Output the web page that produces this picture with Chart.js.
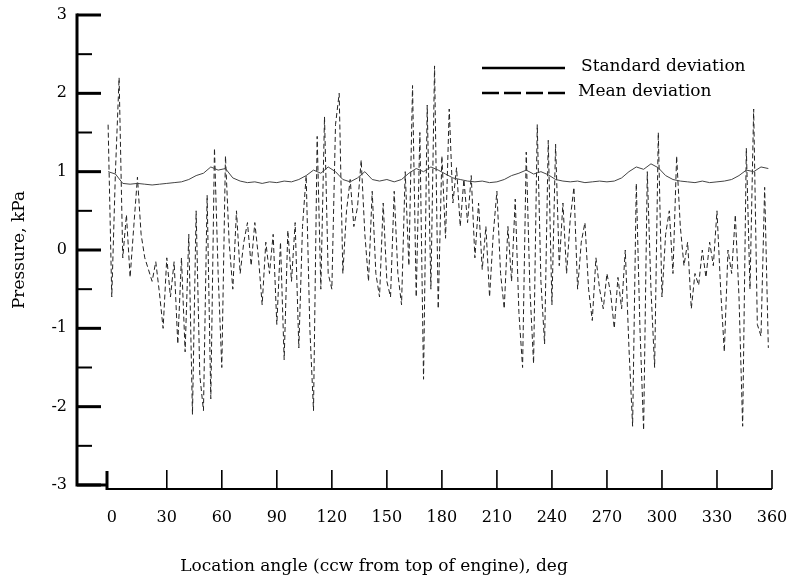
<!DOCTYPE html>
<html>
<head>
<meta charset="utf-8">
<script src="https://cdn.jsdelivr.net/npm/chart.js@4.4.0/dist/chart.umd.min.js"></script>
<style>
  body { margin: 0; background: #fff; }
  canvas { display: block; }
</style>
</head>
<body>
<canvas id="chart" width="791" height="576"></canvas>
<script>
// angle grid: first point and spacing (deg)
var angleStart = -2;
var meanStep = 2;
var stdStep = 4;

// mean deviation, kPa, every 2 deg from -2 to 358
var meanDev = [
  1.6, -0.6, 1.0, 2.2, -0.1, 0.45, -0.35, 0.3, 0.93, 0.2,
  -0.1, -0.25, -0.4, -0.15, -0.55, -1.0, -0.1, -0.6, -0.15, -1.2,
  -0.1, -1.3, 0.2, -2.1, 0.5, -1.6, -2.05, 0.7, -1.9, 1.3,
  -0.3, -1.5, 1.2, 0.1, -0.5, 0.5, -0.3, 0.1, 0.35, -0.2,
  0.35, -0.1, -0.7, 0.1, -0.3, 0.2, -0.95, 0.1, -1.4, 0.25,
  -0.4, 0.35, -1.25, 0.3, 0.95, -1.0, -2.05, 1.45, -0.5, 1.7,
  -0.3, -0.5, 1.6, 2.0, -0.3, 0.5, 0.9, 0.3, 0.55, 1.15,
  0.2, -0.4, 0.75, -0.3, -0.6, 0.6, -0.4, -0.6, 0.75, -0.3,
  -0.7, 1.0, -0.2, 2.1, -0.6, 1.5, -1.65, 1.85, -0.5, 2.35,
  -0.75, 1.2, 0.15, 1.8, 0.6, 1.05, 0.3, 0.9, 0.35, 0.95,
  -0.1, 0.6, -0.25, 0.3, -0.6, 0.2, 0.75, -0.3, -0.75, 0.3,
  -0.4, 0.65, -0.8, -1.5, 1.25, -0.5, -1.45, 1.6, -0.4, -1.2,
  1.4, -0.7, 1.35, -0.2, 0.6, -0.3, 0.4, 0.8, -0.5, 0.1,
  0.35, -0.5, -0.9, -0.1, -0.5, -0.75, -0.3, -0.55, -1.0, -0.35,
  -0.75, 0.0, -1.25, -2.25, 0.85, -1.0, -2.3, 1.0, -0.5, -1.5,
  1.5, -0.6, 0.2, 0.5, -0.3, 1.2, 0.3, -0.2, 0.1, -0.75,
  -0.3, -0.45, 0.0, -0.35, 0.1, -0.2, 0.5, -0.5, -1.3, 0.0,
  -0.3, 0.45, -0.6, -2.25, 1.3, -0.5, 1.8, -0.95, -1.1, 0.8,
  -1.25
];

// standard deviation, kPa, every 4 deg from -2 to 358
var stdDev = [
  1.0, 0.97, 0.85, 0.84, 0.85, 0.84, 0.83, 0.84, 0.85, 0.86,
  0.87, 0.9, 0.95, 0.98, 1.06, 1.02, 1.04, 0.92, 0.88, 0.86,
  0.87, 0.85, 0.87, 0.86, 0.88, 0.87, 0.9, 0.95, 1.02, 0.98,
  1.06, 1.0, 0.9, 0.87, 0.92, 1.0, 0.9, 0.88, 0.9, 0.87,
  0.9, 0.98, 1.04, 1.0, 1.06, 1.02, 0.97, 0.92, 0.9, 0.88,
  0.87, 0.88, 0.86, 0.87, 0.9, 0.95, 0.98, 1.02, 0.97, 1.0,
  0.96, 0.9, 0.88, 0.87, 0.88, 0.86, 0.87, 0.88, 0.87, 0.88,
  0.92, 1.0, 1.06, 1.03, 1.1, 1.05, 0.95, 0.9, 0.88, 0.87,
  0.86, 0.88, 0.86, 0.87, 0.88, 0.9, 0.95, 1.02, 1.0, 1.06,
  1.04
];

var yMajor = [-3, -2, -1, 0, 1, 2, 3];
var yMinor = [-2.5, -1.5, -0.5, 0.5, 1.5, 2.5];
var xTicks = [0, 30, 60, 90, 120, 150, 180, 210, 240, 270, 300, 330, 360];

var seriesNames = ["Standard deviation", "Mean deviation"];
var xTitle = "Location angle (ccw from top of engine), deg";
var yTitle = "Pressure, kPa";

function toPoints(vals, step) {
  var pts = [];
  for (var i = 0; i < vals.length; i++) {
    pts.push({ x: angleStart + i * step, y: vals[i] });
  }
  return pts;
}

var FONT = '"DejaVu Serif", "Liberation Serif", serif';

var axesPlugin = {
  id: 'oldAxes',
  afterDraw: function(chart) {
    var ctx = chart.ctx;
    var xs = chart.scales.x, ys = chart.scales.y;
    var axisX = 77;
    var baseY = 489;
    var yTop = ys.getPixelForValue(3), yBot = ys.getPixelForValue(-3);
    ctx.save();
    ctx.strokeStyle = '#000';
    ctx.lineCap = 'butt';

    // y axis
    ctx.lineWidth = 3;
    ctx.beginPath();
    ctx.moveTo(axisX, yTop - 1.5);
    ctx.lineTo(axisX, yBot);
    ctx.lineTo(xs.left, yBot);
    ctx.stroke();
    yMajor.forEach(function(v) {
      var py = ys.getPixelForValue(v);
      ctx.beginPath();
      ctx.moveTo(axisX, py);
      ctx.lineTo(101, py);
      ctx.stroke();
    });
    ctx.lineWidth = 2;
    yMinor.forEach(function(v) {
      var py = ys.getPixelForValue(v);
      ctx.beginPath();
      ctx.moveTo(axisX, py);
      ctx.lineTo(92, py);
      ctx.stroke();
    });

    // x axis
    ctx.lineWidth = 3;
    ctx.beginPath();
    ctx.moveTo(xs.left, 471);
    ctx.lineTo(xs.left, baseY + 1);
    ctx.stroke();
    ctx.lineWidth = 2.2;
    ctx.beginPath();
    ctx.moveTo(xs.left, baseY);
    ctx.lineTo(xs.getPixelForValue(360), baseY);
    ctx.stroke();
    ctx.lineWidth = 1.6;
    xTicks.forEach(function(v) {
      if (v === 0) return;
      var px = xs.getPixelForValue(v);
      ctx.beginPath();
      ctx.moveTo(px, baseY);
      ctx.lineTo(px, 470);
      ctx.stroke();
    });

    // tick labels
    ctx.fillStyle = '#000';
    ctx.font = '16px ' + FONT;
    ctx.textBaseline = 'middle';
    ctx.textAlign = 'right';
    yMajor.forEach(function(v) {
      ctx.fillText(v < 0 ? '-' + Math.abs(v) : String(v), 67, ys.getPixelForValue(v));
    });
    ctx.textAlign = 'center';
    xTicks.forEach(function(v) {
      ctx.fillText(String(v), xs.getPixelForValue(v), 518);
    });

    // titles
    ctx.font = '17px ' + FONT;
    ctx.fillText(xTitle, 374, 567);
    ctx.save();
    ctx.translate(20, 250);
    ctx.rotate(-Math.PI / 2);
    ctx.fillText(yTitle, 0, 0);
    ctx.restore();

    // legend
    ctx.lineWidth = 2.5;
    ctx.beginPath();
    ctx.moveTo(482, 68);
    ctx.lineTo(565, 68);
    ctx.stroke();
    ctx.setLineDash([17, 5]);
    ctx.beginPath();
    ctx.moveTo(482, 93);
    ctx.lineTo(565, 93);
    ctx.stroke();
    ctx.setLineDash([]);
    ctx.textAlign = 'left';
    ctx.fillText(seriesNames[0], 581, 67);
    ctx.fillText(seriesNames[1], 578, 92);
    ctx.restore();
  }
};

var chart = new Chart(document.getElementById('chart'), {
  type: 'line',
  data: {
    datasets: [
      {
        label: seriesNames[0],
        data: toPoints(stdDev, stdStep),
        borderColor: '#444',
        borderWidth: 1,
        pointRadius: 0,
        fill: false
      },
      {
        label: seriesNames[1],
        data: toPoints(meanDev, meanStep),
        borderColor: '#222',
        borderWidth: 1,
        borderDash: [5, 3],
        pointRadius: 0,
        fill: false
      }
    ]
  },
  options: {
    responsive: false,
    animation: false,
    devicePixelRatio: 1,
    layout: { padding: { left: 107, right: 19, top: 15, bottom: 91 } },
    plugins: { legend: { display: false }, tooltip: { enabled: false } },
    elements: { line: { tension: 0 } },
    scales: {
      x: { type: 'linear', min: -2.6, max: 360, display: false },
      y: { type: 'linear', min: -3, max: 3, display: false }
    }
  },
  plugins: [axesPlugin]
});
</script>
</body>
</html>
